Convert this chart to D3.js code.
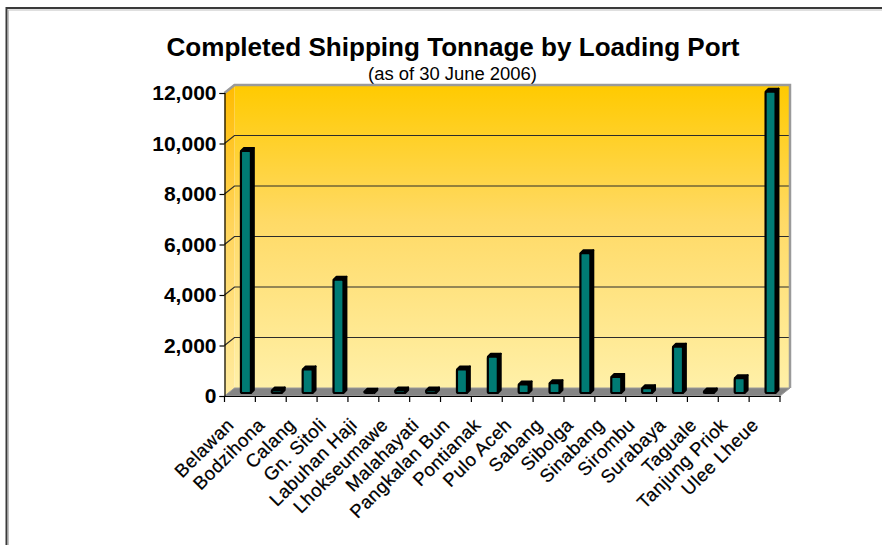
<!DOCTYPE html>
<html>
<head>
<meta charset="utf-8">
<script src="https://cdn.jsdelivr.net/npm/d3@7"></script>
<style>
  html, body { margin: 0; padding: 0; background: #ffffff; }
  svg { display: block; }
  text { font-family: "Liberation Sans", Arial, sans-serif; fill: #000; }
</style>
</head>
<body>
<svg id="chart" width="882" height="545"></svg>
<script>
// ---- data ----
const categories = ["Belawan", "Bodzihona", "Calang", "Gn. Sitoli", "Labuhan Haji",
  "Lhokseumawe", "Malahayati", "Pangkalan Bun", "Pontianak", "Pulo Aceh", "Sabang",
  "Sibolga", "Sinabang", "Sirombu", "Surabaya", "Taguale", "Tanjung Priok", "Ulee Lheue"];
const tonnage = [9550, 60, 900, 4450, 15, 60, 60, 900, 1400, 300, 350, 5500, 600, 150, 1800, 20, 550, 11900];
const yTicks = [0, 2000, 4000, 6000, 8000, 10000, 12000];
const titleText = "Completed Shipping Tonnage by Loading Port";
const subtitleText = "(as of 30 June 2006)";

// ---- layout ----
const svg = d3.select("#chart");
const X0 = 224.5, X1 = 780, Y0 = 396, Y1 = 93;
const DX = 10, DY = -8;          // wall depth offset
const x = d3.scaleBand().domain(categories).range([X0, X1]);
const y = d3.scaleLinear().domain([0, 12000]).range([Y0, Y1]);

const defs = svg.append("defs");
const g1 = defs.append("linearGradient").attr("id", "wallGrad").attr("x1", 0).attr("y1", 0).attr("x2", 0).attr("y2", 1);
g1.append("stop").attr("offset", "0%").attr("stop-color", "#FFCA00");
g1.append("stop").attr("offset", "45%").attr("stop-color", "#FFDA66");
g1.append("stop").attr("offset", "100%").attr("stop-color", "#FFF0A8");
const g2 = defs.append("linearGradient").attr("id", "sideGrad").attr("x1", 0).attr("y1", 0).attr("x2", 0).attr("y2", 1);
g2.append("stop").attr("offset", "0%").attr("stop-color", "#FFBB00");
g2.append("stop").attr("offset", "45%").attr("stop-color", "#FFD45A");
g2.append("stop").attr("offset", "100%").attr("stop-color", "#FFEBA0");

// outer frame
svg.append("rect").attr("x", 6.5).attr("y", 8).attr("width", 900).attr("height", 600)
  .attr("fill", "none").attr("stroke", "#3a3a3a").attr("stroke-width", 2);
svg.append("rect").attr("x", 8.5).attr("y", 10).attr("width", 900).attr("height", 600)
  .attr("fill", "none").attr("stroke", "#c0c0c0").attr("stroke-width", 1);

// title
svg.append("text").attr("x", 453).attr("y", 56).attr("text-anchor", "middle")
  .attr("font-size", 26).attr("font-weight", "bold")
  .attr("textLength", 573).attr("lengthAdjust", "spacingAndGlyphs").text(titleText);
svg.append("text").attr("x", 452.5).attr("y", 80).attr("text-anchor", "middle")
  .attr("font-size", 17.5)
  .attr("textLength", 169).attr("lengthAdjust", "spacingAndGlyphs").text(subtitleText);

// back wall
svg.append("rect").attr("x", X0 + DX).attr("y", Y1 + DY).attr("width", X1 - X0).attr("height", Y0 - Y1)
  .attr("fill", "url(#wallGrad)");
// side wall
svg.append("path")
  .attr("d", `M${X0},${Y1}L${X0 + DX},${Y1 + DY}L${X0 + DX},${Y0 + DY}L${X0},${Y0}Z`)
  .attr("fill", "url(#sideGrad)");

// gridlines
const grid = svg.append("g");
yTicks.filter(t => t > 0).forEach(t => {
  const yy = y(t);
  grid.append("path")
    .attr("d", `M${X0},${yy}L${X0 + DX},${yy + DY}L${X1 + DX},${yy + DY}`)
    .attr("fill", "none").attr("stroke", "#2b2b2b").attr("stroke-width", 1.2);
});

// wall border (gray)
svg.append("path")
  .attr("d", `M${X0},${Y1}L${X0 + DX},${Y1 + DY}L${X1 + DX},${Y1 + DY}L${X1 + DX},${Y0 + DY}`)
  .attr("fill", "none").attr("stroke", "#9a9a9a").attr("stroke-width", 2.5);

// floor
svg.append("path")
  .attr("d", `M${X0},${Y0}L${X1},${Y0}L${X1 + DX},${Y0 + DY}L${X0 + DX},${Y0 + DY}Z`)
  .attr("fill", "#858585").attr("stroke", "#9a9a9a").attr("stroke-width", 1);

// bars
const bw = 10, bd = 3;
const bars = svg.append("g");
categories.forEach((c, i) => {
  const v = tonnage[i];
  const cx = x(c) + x.bandwidth() / 2 + 6;
  const yTop = y(v) - 4;
  const yBot = y(0) - 3;
  const l = cx - bw / 2, r = cx + bw / 2;
  const gb = bars.append("g");
  gb.append("path").attr("d", `M${r},${yTop}L${r + bd},${yTop - bd}L${r + bd},${yBot - bd}L${r},${yBot}Z`)
    .attr("fill", "#000").attr("stroke", "#000").attr("stroke-width", 1.8).attr("stroke-linejoin", "round");
  gb.append("path").attr("d", `M${l},${yTop}L${l + bd},${yTop - bd}L${r + bd},${yTop - bd}L${r},${yTop}Z`)
    .attr("fill", "#000").attr("stroke", "#000").attr("stroke-width", 1.8).attr("stroke-linejoin", "round");
  gb.append("rect").attr("x", l).attr("y", yTop).attr("width", bw).attr("height", Math.max(0, yBot - yTop))
    .attr("rx", 1.5)
    .attr("fill", "#007B74").attr("stroke", "#000").attr("stroke-width", 2.2);
});

// y axis
const yAxis = svg.append("g").attr("transform", `translate(${X0},0)`)
  .call(d3.axisLeft(y).tickValues(yTicks).tickFormat(d3.format(",")).tickSize(5).tickPadding(3));
yAxis.select(".domain").attr("stroke", "#000").attr("stroke-width", 1.2);
yAxis.selectAll(".tick line").attr("stroke", "#000").attr("stroke-width", 1.2);
yAxis.selectAll(".tick text").attr("font-family", "'Liberation Sans', Arial, sans-serif")
  .attr("font-size", 21).attr("font-weight", "bold").attr("fill", "#000");

// x axis
const xAxis = svg.append("g").attr("transform", `translate(0,${Y0})`)
  .call(d3.axisBottom(x).tickSize(0).tickFormat(""));
xAxis.select(".domain").attr("stroke", "#000").attr("stroke-width", 1.2);
const bounds = categories.map(c => x(c)).concat([X1]);
xAxis.selectAll(".btick").data(bounds).enter().append("line").attr("class", "btick")
  .attr("x1", d => d).attr("x2", d => d).attr("y1", 0).attr("y2", 6)
  .attr("stroke", "#000").attr("stroke-width", 1.2);

// x labels
svg.append("g").selectAll("text").data(categories).enter().append("text")
  .attr("transform", d => `translate(${x(d) + x.bandwidth() / 2 - 5},${Y0 + 30}) rotate(-45)`)
  .attr("text-anchor", "end").attr("font-size", 18.5).attr("letter-spacing", 0.5)
  .attr("stroke", "#000").attr("stroke-width", 0.25).text(d => d);
</script>
</body>
</html>
